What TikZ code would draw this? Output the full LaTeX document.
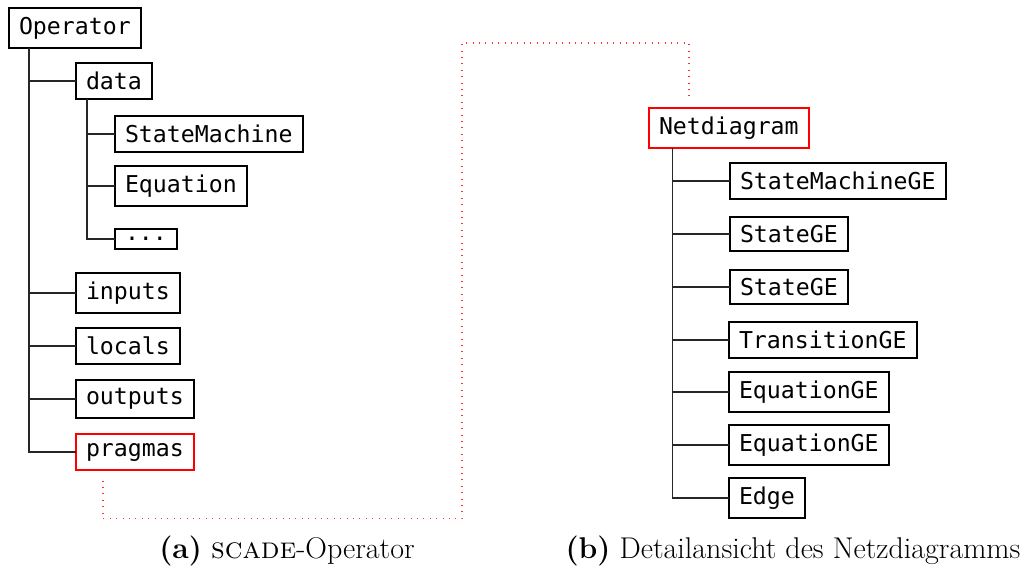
\documentclass[tikz,border=0pt]{standalone}
\usepackage{fontspec}
\newfontfamily\boxfont{DejaVu Sans Mono}
\begin{document}
\begin{tikzpicture}[x=0.5pt,y=-0.5pt]
\tikzset{
  box/.style={draw, line width=1pt, inner xsep=5pt, inner ysep=4.3pt, outer sep=0pt,
    font=\boxfont\fontsize{11.6}{13}\selectfont, anchor=west},
  hot/.style={box, draw=red},
  conn/.style={line width=0.6pt, draw=black!85},
  link/.style={draw=red!80, line width=0.6pt, dash pattern=on 0.5pt off 2.7pt},
  captxt/.style={anchor=base, font=\fontsize{15}{18}\selectfont, inner sep=0pt}
}
\useasboundingbox (0,0) rectangle (1021,569);
% left tree
\node[box] (Operator) at (9,28) {Operator};
\node[box] (data) at (76,81) {data};
\node[box] (sm) at (115,134) {StateMachine};
\node[box] (eq) at (115,186) {Equation};
\node[box] (dots) at (115,239) {...};
\node[box] (inputs) at (76,293) {inputs};
\node[box] (locals) at (76,346) {locals};
\node[box] (outputs) at (76,399) {outputs};
\node[hot] (pragmas) at (76,452) {pragmas};
\foreach \c in {data,inputs,locals,outputs,pragmas}
  \draw[conn] ([xshift=10pt]Operator.south west) |- (\c.west);
\foreach \c in {sm,eq,dots}
  \draw[conn] ([xshift=5.5pt]data.south west) |- (\c.west);
% right tree
\node[hot] (net) at (649,128) {Netdiagram};
\node[box] (smge) at (730,181) {StateMachineGE};
\node[box] (st1) at (730,234) {StateGE};
\node[box] (st2) at (730,287) {StateGE};
\node[box] (tr) at (729,340) {TransitionGE};
\node[box] (eq1) at (729,392) {EquationGE};
\node[box] (eq2) at (729,445) {EquationGE};
\node[box] (edge) at (729,498) {Edge};
\foreach \c in {smge,st1,st2,tr,eq1,eq2,edge}
  \draw[conn] ([xshift=11.7pt]net.south west) |- (\c.west);
% dotted link
\coordinate (bend) at (462,43);
\draw[link] ([xshift=13.5pt,yshift=-5.5pt]pragmas.south west) -- ++(0,38) -| (bend)
  -| ([xshift=20pt,yshift=4pt]net.north west);
% captions
\node[captxt] (capa) at (287,558) {\textbf{(a)} \textsc{scade}-Operator};
\node[captxt] (capb) at (793,558) {\textbf{(b)} Detailansicht des Netzdiagramms};
\end{tikzpicture}
\end{document}
